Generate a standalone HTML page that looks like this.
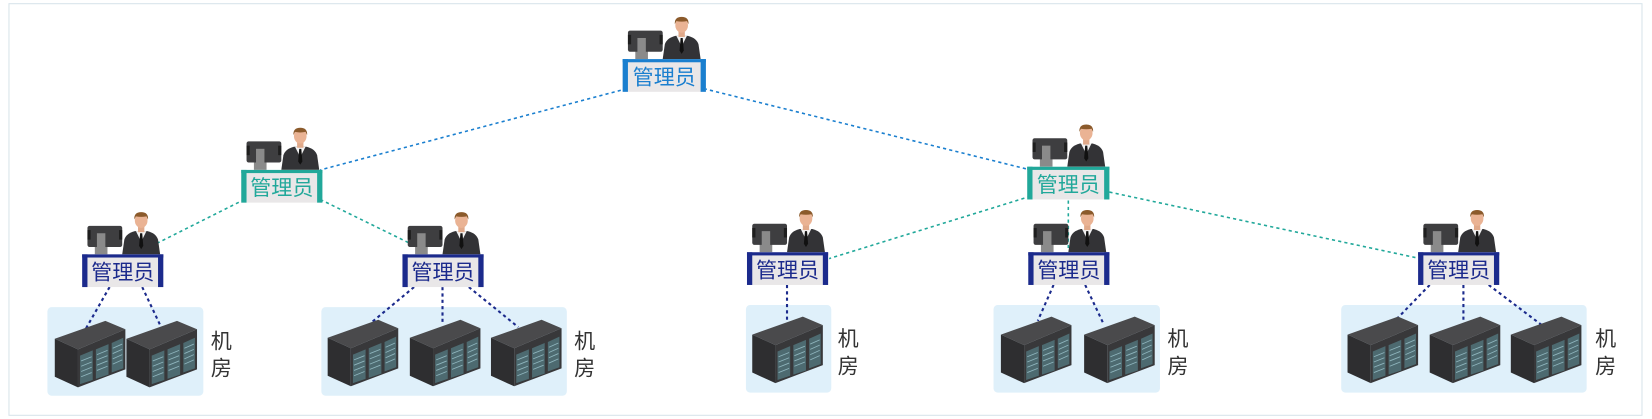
<!DOCTYPE html>
<html><head><meta charset="utf-8"><style>
body{margin:0;background:#fff;width:1652px;height:419px;overflow:hidden}
svg{position:absolute;left:0;top:0}
text{font-family:"Liberation Sans","Noto Sans CJK SC",sans-serif}
</style></head><body>
<svg width="1652" height="419" viewBox="0 0 1568 397" preserveAspectRatio="none">
<defs>
<g id="icons">
  <rect x="12" y="-8" width="12" height="8" fill="#8a8a8a"/>
  <rect x="5" y="-27" width="33" height="20" rx="2" fill="#3e3e40"/>
  <rect x="5" y="-23" width="3" height="9" fill="#1e1e1e"/>
  <rect x="35" y="-23" width="3" height="9" fill="#1e1e1e"/>
  <rect x="14" y="-20" width="8" height="14" fill="#8a8a8a"/>
  <path d="M38 0 L40 -14 Q42 -20 50 -22 L62 -22 Q70 -20 72 -14 L74 0 Z" fill="#333336"/>
  <path d="M51 -22 L56 -12 L61 -22 Z" fill="#f2f2f2"/>
  <path d="M55 -20 L57 -20 L58 -8 L56 -5 L54 -8 Z" fill="#111"/>
  <rect x="53" y="-27" width="6" height="6" fill="#e0a98a"/>
  <ellipse cx="56" cy="-32" rx="6" ry="7" fill="#eab394"/>
  <path d="M49.5 -33 Q49 -40 56 -40 Q63 -40 62.5 -33 L61 -36 Q56 -35 51 -36 Z" fill="#8b5a2b"/>
</g>
<g id="rack">
  <polygon points="0,17 48,0 67,8 22,27" fill="#4a4a4c"/>
  <polygon points="0,17 22,27 22,63 0,53" fill="#2e2e30"/>
  <polygon points="22,27 67,8 67,46 22,63" fill="#38383a"/>
  <polygon points="24,33 36,28 36,56 24,60" fill="#4d6a70"/>
  <polygon points="39,27 51,22 51,51 39,55" fill="#4d6a70"/>
  <polygon points="54,21 65,16 65,45 54,49" fill="#4d6a70"/>
  <g stroke="#8fb5bd" stroke-width="0.8">
    <line x1="25" y1="38" x2="35" y2="34"/><line x1="25" y1="43" x2="35" y2="39"/><line x1="25" y1="48" x2="35" y2="44"/><line x1="25" y1="53" x2="35" y2="49"/>
    <line x1="40" y1="32" x2="50" y2="28"/><line x1="40" y1="37" x2="50" y2="33"/><line x1="40" y1="42" x2="50" y2="38"/><line x1="40" y1="47" x2="50" y2="43"/>
    <line x1="55" y1="26" x2="64" y2="22"/><line x1="55" y1="31" x2="64" y2="27"/><line x1="55" y1="36" x2="64" y2="32"/><line x1="55" y1="41" x2="64" y2="37"/>
  </g>
</g>
</defs>
<rect x="8.5" y="3.5" width="1550" height="390" fill="none" stroke="#d8e4ea" stroke-width="1"/>

<g fill="#dff0fa">
<rect x="45" y="291" width="148" height="84" rx="4"/>
<rect x="305" y="291" width="233" height="84" rx="4"/>
<rect x="708" y="289" width="81" height="83" rx="4"/>
<rect x="943" y="289" width="158" height="83" rx="4"/>
<rect x="1273" y="289" width="233" height="83" rx="4"/>
</g>

<g fill="none" stroke-width="1.5" stroke-dasharray="3,3">
<g stroke="#1a7fcf">
<line x1="595" y1="84" x2="304" y2="161"/>
<line x1="668" y1="84" x2="978" y2="161"/>
</g>
<g stroke="#21a89a">
<line x1="232" y1="189" x2="146" y2="232"/>
<line x1="304" y1="189" x2="392" y2="232"/>
<line x1="978" y1="186" x2="787" y2="245"/>
<line x1="1014" y1="190" x2="1014" y2="238"/>
<line x1="1053" y1="182" x2="1348" y2="245"/>
</g>
<g stroke="#1b2a8c" stroke-width="2">
<line x1="104" y1="272" x2="80" y2="314"/>
<line x1="135" y1="272" x2="152" y2="308"/>
<line x1="393" y1="272" x2="352" y2="306"/>
<line x1="420" y1="272" x2="420" y2="306"/>
<line x1="445" y1="272" x2="492" y2="310"/>
<line x1="747" y1="270" x2="747" y2="306"/>
<line x1="1000" y1="270" x2="985" y2="304"/>
<line x1="1030" y1="270" x2="1047" y2="306"/>
<line x1="1357" y1="270" x2="1323" y2="305"/>
<line x1="1389" y1="270" x2="1389" y2="303"/>
<line x1="1413" y1="270" x2="1466" y2="310"/>
</g>
</g>

<use href="#rack" x="52" y="304"/><use href="#rack" x="120" y="304"/>
<use href="#rack" x="311" y="303"/><use href="#rack" x="389" y="303"/><use href="#rack" x="466" y="303"/>
<use href="#rack" x="714" y="300"/>
<use href="#rack" x="950" y="300"/><use href="#rack" x="1029" y="300"/>
<use href="#rack" x="1279" y="300"/><use href="#rack" x="1357" y="300"/><use href="#rack" x="1434" y="300"/>

<g font-size="20" fill="#333">
<text x="200" y="330">机</text><text x="200" y="356">房</text>
<text x="545" y="330">机</text><text x="545" y="356">房</text>
<text x="795" y="328">机</text><text x="795" y="354">房</text>
<text x="1108" y="328">机</text><text x="1108" y="354">房</text>
<text x="1514" y="328">机</text><text x="1514" y="354">房</text>
</g>

<g transform="translate(591,56)"><use href="#icons"/><rect x="0" y="0" width="79" height="31" fill="#e9e7e8"/><rect x="0" y="0" width="79" height="3" fill="#1a7fcf"/><rect x="0" y="0" width="5" height="31" fill="#1a7fcf"/><rect x="74" y="0" width="5" height="31" fill="#1a7fcf"/><text x="39.5" y="24" font-size="20" fill="#1a7fcf" text-anchor="middle">管理员</text></g>

<g transform="translate(229,161)"><use href="#icons"/><rect x="0" y="0" width="77" height="31" fill="#e9e7e8"/><rect x="0" y="0" width="77" height="3" fill="#21a89a"/><rect x="0" y="0" width="5" height="31" fill="#21a89a"/><rect x="72" y="0" width="5" height="31" fill="#21a89a"/><text x="38.5" y="24" font-size="20" fill="#21a89a" text-anchor="middle">管理员</text></g>
<g transform="translate(975,158)"><use href="#icons"/><rect x="0" y="0" width="78" height="31" fill="#e9e7e8"/><rect x="0" y="0" width="78" height="3" fill="#21a89a"/><rect x="0" y="0" width="5" height="31" fill="#21a89a"/><rect x="73" y="0" width="5" height="31" fill="#21a89a"/><text x="39" y="24" font-size="20" fill="#21a89a" text-anchor="middle">管理员</text></g>

<g transform="translate(78,241)"><use href="#icons"/><rect x="0" y="0" width="77" height="31" fill="#e9e7e8"/><rect x="0" y="0" width="77" height="3" fill="#1b2a8c"/><rect x="0" y="0" width="5" height="31" fill="#1b2a8c"/><rect x="72" y="0" width="5" height="31" fill="#1b2a8c"/><text x="38.5" y="24" font-size="20" fill="#1b2a8c" text-anchor="middle">管理员</text></g>
<g transform="translate(382,241)"><use href="#icons"/><rect x="0" y="0" width="77" height="31" fill="#e9e7e8"/><rect x="0" y="0" width="77" height="3" fill="#1b2a8c"/><rect x="0" y="0" width="5" height="31" fill="#1b2a8c"/><rect x="72" y="0" width="5" height="31" fill="#1b2a8c"/><text x="38.5" y="24" font-size="20" fill="#1b2a8c" text-anchor="middle">管理员</text></g>
<g transform="translate(709,239)"><use href="#icons"/><rect x="0" y="0" width="77" height="31" fill="#e9e7e8"/><rect x="0" y="0" width="77" height="3" fill="#1b2a8c"/><rect x="0" y="0" width="5" height="31" fill="#1b2a8c"/><rect x="72" y="0" width="5" height="31" fill="#1b2a8c"/><text x="38.5" y="24" font-size="20" fill="#1b2a8c" text-anchor="middle">管理员</text></g>
<g transform="translate(976,239)"><use href="#icons"/><rect x="0" y="0" width="77" height="31" fill="#e9e7e8"/><rect x="0" y="0" width="77" height="3" fill="#1b2a8c"/><rect x="0" y="0" width="5" height="31" fill="#1b2a8c"/><rect x="72" y="0" width="5" height="31" fill="#1b2a8c"/><text x="38.5" y="24" font-size="20" fill="#1b2a8c" text-anchor="middle">管理员</text></g>
<g transform="translate(1346,239)"><use href="#icons"/><rect x="0" y="0" width="77" height="31" fill="#e9e7e8"/><rect x="0" y="0" width="77" height="3" fill="#1b2a8c"/><rect x="0" y="0" width="5" height="31" fill="#1b2a8c"/><rect x="72" y="0" width="5" height="31" fill="#1b2a8c"/><text x="38.5" y="24" font-size="20" fill="#1b2a8c" text-anchor="middle">管理员</text></g>
</svg>
</body></html>
